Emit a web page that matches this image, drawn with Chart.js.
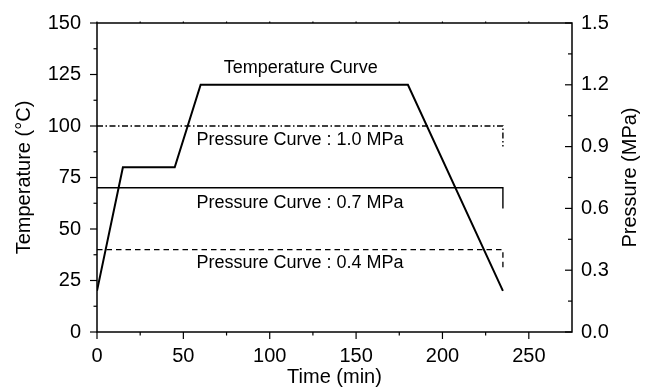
<!DOCTYPE html>
<html lang="en">
<head>
<meta charset="UTF-8">
<title>Temperature and pressure curves</title>
<script src="https://cdn.jsdelivr.net/npm/chart.js"></script>
<style>
  html, body { margin: 0; padding: 0; background: #fff; }
  canvas { display: block; }
</style>
</head>
<body>
<canvas id="cureChart" width="652" height="389"></canvas>
<script>
// values
const tempTime = [0, 15, 45, 60, 180, 235];          // min
const tempValues = [20, 80, 80, 120, 120, 20];       // °C
const pressTime = [0, 235, 235];                     // min
const press10 = [1.0, 1.0, 0.9];                     // MPa
const press07 = [0.7, 0.7, 0.6];
const press04 = [0.4, 0.4, 0.31];

const xTicks = [0, 50, 100, 150, 200, 250];
const xMinor = [25, 75, 125, 175, 225];
const tempTicks = [0, 25, 50, 75, 100, 125, 150];
const tempMinor = [12.5, 37.5, 62.5, 87.5, 112.5, 137.5];
const pressTicks = [0, 0.3, 0.6, 0.9, 1.2, 1.5];
const pressMinor = [0.15, 0.45, 0.75, 1.05, 1.35];

// curve captions: text, time, temperature
const captions = [
  ['Temperature Curve', 118, 128.3],
  ['Pressure Curve : 1.0 MPa', 117.5, 93.1],
  ['Pressure Curve : 0.7 MPa', 117.5, 62.6],
  ['Pressure Curve : 0.4 MPa', 117.5, 33.6]
];

const FONT = 'Liberation Sans, Arial, Helvetica, sans-serif';
Chart.defaults.font.family = FONT;
Chart.defaults.color = '#000';

function pts(xs, ys) {
  return xs.map((x, i) => ({ x: x, y: ys[i] }));
}

// frame, tick marks, right-hand title and captions
const framePlugin = {
  id: 'frame',
  afterDraw(chart) {
    const ctx = chart.ctx;
    const a = chart.chartArea;
    const sx = chart.scales.x, sy = chart.scales.y, sp = chart.scales.y1;
    ctx.save();
    ctx.strokeStyle = '#000';
    ctx.lineWidth = 1.5;
    ctx.strokeRect(a.left, a.top, a.right - a.left, a.bottom - a.top);

    const line = (x1, y1, x2, y2) => {
      ctx.beginPath();
      ctx.moveTo(x1, y1);
      ctx.lineTo(x2, y2);
      ctx.stroke();
    };
    ctx.lineWidth = 1.2;
    tempTicks.forEach(v => { const p = sy.getPixelForValue(v); line(a.left - 7, p, a.left, p); });
    tempMinor.forEach(v => { const p = sy.getPixelForValue(v); line(a.left - 3.5, p, a.left, p); });
    xTicks.forEach(v => { const p = sx.getPixelForValue(v); line(p, a.bottom, p, a.bottom + 7); line(p, a.top, p, a.top - 1.5); });
    xMinor.forEach(v => { const p = sx.getPixelForValue(v); line(p, a.bottom, p, a.bottom + 3.5); line(p, a.top, p, a.top - 1.5); });
    pressTicks.forEach(v => { const p = sp.getPixelForValue(v); line(a.right - 7, p, a.right, p); });
    pressMinor.forEach(v => { const p = sp.getPixelForValue(v); line(a.right - 4, p, a.right, p); });

    ctx.fillStyle = '#000';
    ctx.textAlign = 'center';
    ctx.textBaseline = 'middle';
    ctx.font = '20px ' + FONT;
    ctx.save();
    ctx.translate(630.5, (a.top + a.bottom) / 2);
    ctx.rotate(-Math.PI / 2);
    ctx.fillText('Pressure (MPa)', 0, 0);
    ctx.restore();

    ctx.font = '18px ' + FONT;
    captions.forEach(c => {
      ctx.fillText(c[0], sx.getPixelForValue(c[1]), sy.getPixelForValue(c[2]));
    });
    ctx.restore();
  }
};

const tickFont = { size: 20 };

// keep the plot box where the figure has it
function noPad(s) {
  s.paddingTop = 0;
  s.paddingBottom = 0;
  s.paddingLeft = 0;
  s.paddingRight = 0;
}

new Chart(document.getElementById('cureChart'), {
  type: 'line',
  data: {
    datasets: [
      {
        label: 'Temperature Curve',
        data: pts(tempTime, tempValues),
        yAxisID: 'y',
        borderColor: '#000',
        borderWidth: 2,
        pointRadius: 0
      },
      {
        label: 'Pressure Curve : 1.0 MPa',
        data: pts(pressTime, press10),
        yAxisID: 'y1',
        borderColor: '#000',
        borderWidth: 1.4,
        borderDash: [6, 2.5, 1.5, 2.5],
        pointRadius: 0
      },
      {
        label: 'Pressure Curve : 0.7 MPa',
        data: pts(pressTime, press07),
        yAxisID: 'y1',
        borderColor: '#000',
        borderWidth: 1.4,
        pointRadius: 0
      },
      {
        label: 'Pressure Curve : 0.4 MPa',
        data: pts(pressTime, press04),
        yAxisID: 'y1',
        borderColor: '#000',
        borderWidth: 1.3,
        borderDash: [5.5, 4],
        pointRadius: 0
      }
    ]
  },
  options: {
    responsive: false,
    animation: false,
    layout: { padding: { top: 23, left: 0, right: 0, bottom: 0 } },
    plugins: {
      legend: { display: false },
      tooltip: { enabled: false }
    },
    scales: {
      x: {
        type: 'linear',
        min: 0,
        max: 275,
        afterBuildTicks: s => { s.ticks = xTicks.map(v => ({ value: v })); },
        afterFit: s => { s.height = 57; noPad(s); },
        grid: { display: false, drawTicks: false },
        border: { display: false },
        ticks: { font: tickFont, padding: 12, maxRotation: 0 },
        title: { display: true, text: 'Time (min)', font: { size: 20 }, padding: { top: 0, bottom: 0 } }
      },
      y: {
        position: 'left',
        min: 0,
        max: 150,
        afterBuildTicks: s => { s.ticks = tempTicks.map(v => ({ value: v })); },
        afterFit: s => { s.width = 97; noPad(s); },
        grid: { display: false, drawTicks: false },
        border: { display: false },
        ticks: { font: tickFont, padding: 16 },
        title: { display: true, text: 'Temperature (°C)', font: { size: 20 }, padding: { top: 12, bottom: 0 } }
      },
      y1: {
        position: 'right',
        min: 0,
        max: 1.5,
        afterBuildTicks: s => { s.ticks = pressTicks.map(v => ({ value: v })); },
        afterFit: s => { s.width = 80; noPad(s); },
        grid: { display: false, drawTicks: false },
        border: { display: false },
        ticks: { font: tickFont, padding: 9, callback: v => v.toFixed(1) }
      }
    }
  },
  plugins: [framePlugin]
});
</script>
</body>
</html>
